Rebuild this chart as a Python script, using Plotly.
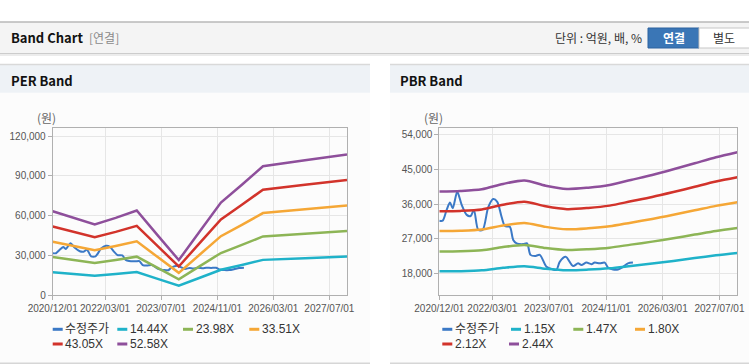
import plotly.graph_objects as go

W, H = 749, 364

# ---------------- data ----------------
x_tick_labels = ["2020/12/01", "2022/03/01", "2023/07/01", "2024/11/01", "2026/03/01", "2027/07/01"]
x_range = ["2020-12-01", "2027-12-01"]
per_y_ticks = [0, 30000, 60000, 90000, 120000]
pbr_y_ticks = [18000, 27000, 36000, 45000, 54000]

price_name = "수정주가"
price_dates = [
    "2020-12-01", "2020-12-30", "2021-02-02", "2021-03-03", "2021-03-26", "2021-05-04",
    "2021-06-11", "2021-07-24", "2021-08-27", "2021-09-24", "2021-10-31", "2021-12-08",
    "2022-01-25", "2022-03-08", "2022-04-12", "2022-05-19", "2022-06-17", "2022-07-29",
    "2022-08-27", "2022-09-25", "2022-11-20", "2022-12-24", "2023-01-22", "2023-03-01",
    "2023-04-12", "2023-06-09", "2023-08-04", "2023-09-02", "2023-09-30", "2023-11-20",
    "2024-01-22", "2024-03-05", "2024-04-03", "2024-05-16", "2024-06-28", "2024-07-26",
    "2024-09-07", "2024-10-20", "2024-11-17", "2024-12-30", "2025-02-11", "2025-03-25",
    "2025-05-07", "2025-06-19",
]
price_values = [
    31700, 31700, 34500, 36400, 34900, 39200,
    35800, 33200, 32900, 34500, 29300, 29300,
    35200, 37300, 36600, 32700, 30300, 30100,
    26700, 25800, 25600, 25800, 22800, 22500,
    22800, 19700, 19000, 18900, 21000, 22300,
    19900, 20600, 20200, 20800, 20400, 20800,
    20600, 20800, 19500, 19000, 19000, 19700,
    20600, 20800,
]

per_band_dates = [
    "2020-12-01", "2021-06-01", "2021-12-01", "2022-06-01", "2022-12-01", "2023-06-01",
    "2023-12-01", "2024-06-01", "2024-12-01", "2025-06-01", "2025-12-01", "2026-12-01",
    "2027-12-01",
]
per_names = ["14.44X", "23.98X", "33.51X", "43.05X", "52.58X"]
per_1444 = [17400, 16030, 14660, 16030, 17550, 12420, 7290, 13240, 19210, 22890, 26710, 27940, 29170]
per_2398 = [28900, 26620, 24340, 26620, 29140, 20620, 12110, 21990, 31890, 38010, 44360, 46400, 48440]
per_3351 = [40380, 37200, 34010, 37200, 40720, 28820, 16920, 30730, 44570, 53110, 61990, 64840, 67690]
per_4305 = [51880, 47790, 43700, 47790, 52310, 37020, 21740, 39480, 57260, 68230, 79640, 83300, 86960]
per_5258 = [63360, 58360, 53370, 58360, 63890, 45220, 26550, 48220, 69930, 83340, 97270, 101740, 106210]

pbr_band_dates = [
    "2020-12-01", "2021-06-01", "2021-12-01", "2022-06-01", "2022-12-01", "2023-06-01",
    "2023-12-01", "2024-06-01", "2024-12-01", "2025-06-01", "2025-12-01", "2026-06-01",
    "2026-12-01", "2027-06-01", "2027-12-01",
]
pbr_names = ["1.15X", "1.47X", "1.80X", "2.12X", "2.44X"]
pbr_115 = [18520, 18570, 18780, 19440, 19870, 19220, 18820, 18980, 19310, 19920, 20540, 21230, 21970, 22700, 23320]
pbr_147 = [23670, 23740, 24010, 24840, 25400, 24570, 24060, 24260, 24680, 25470, 26250, 27140, 28080, 29020, 29800]
pbr_180 = [28980, 29070, 29390, 30420, 31100, 30080, 29460, 29710, 30220, 31180, 32140, 33230, 34380, 35540, 36500]
pbr_212 = [34130, 34240, 34620, 35830, 36630, 35430, 34690, 34990, 35600, 36730, 37860, 39140, 40500, 41850, 42980]
pbr_244 = [39280, 39410, 39850, 41240, 42160, 40780, 39930, 40270, 40970, 42270, 43570, 45050, 46610, 48170, 49470]

# ---------------- style ----------------
price_color = "#3b79c6"
band_colors = ["#1fb2c9", "#8db556", "#f5a736", "#d2332b", "#8e4f9b"]
FONT = "Noto Sans CJK KR, Liberation Sans, sans-serif"
TICK_FONT = "Liberation Sans, sans-serif"
LEG_FONT = "Liberation Sans, Noto Sans CJK KR, sans-serif"


def px(x):
    return x / W


def py(y):
    return 1 - y / H


def iso(lbl):
    return lbl.replace("/", "-")


fig = go.Figure()

fig.add_trace(go.Scatter(x=price_dates, y=price_values, name=price_name, mode="lines",
                         line=dict(color=price_color, width=2, shape="spline", smoothing=0.6),
                         xaxis="x", yaxis="y", showlegend=False))
for name, vals, col in zip(per_names, [per_1444, per_2398, per_3351, per_4305, per_5258], band_colors):
    fig.add_trace(go.Scatter(x=per_band_dates, y=vals, name=name, mode="lines",
                             line=dict(color=col, width=2.5),
                             xaxis="x", yaxis="y", showlegend=False))

fig.add_trace(go.Scatter(x=price_dates, y=price_values, name=price_name, mode="lines",
                         line=dict(color=price_color, width=2, shape="spline", smoothing=0.8),
                         xaxis="x2", yaxis="y2", showlegend=False))
for name, vals, col in zip(pbr_names, [pbr_115, pbr_147, pbr_180, pbr_212, pbr_244], band_colors):
    fig.add_trace(go.Scatter(x=pbr_band_dates, y=vals, name=name, mode="lines",
                             line=dict(color=col, width=2.5, shape="spline", smoothing=0.8),
                             xaxis="x2", yaxis="y2", showlegend=False))

axis_common = dict(showline=True, linecolor="#b0b0b0", linewidth=1, mirror=True,
                   showgrid=True, gridcolor="#e6e6e6", gridwidth=1, zeroline=False,
                   ticks="outside", ticklen=4, tickcolor="#b0b0b0", automargin=False,
                   tickfont=dict(family=TICK_FONT, size=10, color="#555555"))

xaxis_common = dict(axis_common, type="date", range=x_range, tickangle=0,
                    tickvals=[iso(t) for t in x_tick_labels], ticktext=x_tick_labels)

fig.update_layout(
    xaxis=dict(xaxis_common, domain=[px(52.7), px(347)], anchor="y"),
    yaxis=dict(axis_common, domain=[py(295.3), py(128.3)], anchor="x",
               range=[0, 125900], tickvals=per_y_ticks,
               ticktext=[f"{v:,}" for v in per_y_ticks]),
    xaxis2=dict(xaxis_common, domain=[px(439.3), px(737.3)], anchor="y2"),
    yaxis2=dict(axis_common, domain=[py(295.3), py(128.3)], anchor="x2",
                range=[12300, 55700], tickvals=pbr_y_ticks,
                ticktext=[f"{v:,}" for v in pbr_y_ticks]),
)

shapes = []
annotations = []


def rect(x0, y0, x1, y1, fill, line_color=None, lw=0, layer="below"):
    shapes.append(dict(type="rect", xref="paper", yref="paper",
                       x0=px(x0), x1=px(x1), y0=py(y1), y1=py(y0),
                       fillcolor=fill, line=dict(color=line_color or fill, width=lw), layer=layer))


def hline(x0, x1, y, color, w=1, layer="below"):
    shapes.append(dict(type="line", xref="paper", yref="paper",
                       x0=px(x0), x1=px(x1), y0=py(y), y1=py(y),
                       line=dict(color=color, width=w), layer=layer))


def text(x, y, s, size=12, color="#333333", anchor="left", bold=False, family=FONT):
    annotations.append(dict(xref="paper", yref="paper", x=px(x), y=py(y), text=(f"<b>{s}</b>" if bold else s),
                            showarrow=False, xanchor=anchor, yanchor="middle", borderpad=0,
                            font=dict(family=family, size=size, color=color)))


# top header
rect(0, 22, W, 53, "#f4f4f4")
hline(0, W, 22, "#b8b8b8", 1.5)
hline(0, W, 53.5, "#cccccc", 1)
hline(0, W, 55, "#ececec", 2)
text(10, 38, "Band Chart", size=13, color="#111111", bold=True)
text(88, 38, "[연결]", size=12, color="#8a8a8a")
text(643, 38, "단위 : 억원, 배, %", size=12, color="#333333", anchor="right")
rect(648, 28, 699, 48, "#3a76b6", "#2d639f", 1, layer="above")
text(673.5, 38, "연결", size=12, color="#ffffff", anchor="center", bold=True)
rect(699, 28, 750, 48, "#ffffff", "#c6c6c6", 1, layer="above")
text(724, 38, "별도", size=12, color="#333333", anchor="center")

# panels
for (x0, x1) in [(0, 370), (390, W)]:
    rect(x0, 92.7, x1, 363, "#fcfcfc")
    rect(x0, 64.5, x1, 92.7, "#eef2f6")
    hline(x0, x1, 64.5, "#d9d9d9", 1.5)
    hline(x0, x1, 363.3, "#d6d6d6", 1.5)

text(10, 80.5, "PER Band", size=13, color="#111111", bold=True)
text(399, 80.5, "PBR Band", size=13, color="#111111", bold=True)
text(36, 118, "(원)", size=12, color="#666666")
text(423, 118, "(원)", size=12, color="#666666")

# legends
per_leg = [(52.7, 329.3), (117.3, 329.3), (183, 329.3), (249.3, 329.3), (52.7, 344), (117.3, 344)]
pbr_leg = [(442.3, 329.3), (511, 329.3), (573.3, 329.3), (635, 329.3), (442.3, 344), (509, 344)]
for positions, names in [(per_leg, [price_name] + per_names), (pbr_leg, [price_name] + pbr_names)]:
    for (lx, ly), nm, col in zip(positions, names, [price_color] + band_colors):
        hline(lx, lx + 10, ly, col, 3, layer="above")
        text(lx + 11.5, ly, nm, size=12, color="#333333", family=LEG_FONT)

fig.update_layout(
    width=W, height=H, margin=dict(l=0, r=0, t=0, b=0, autoexpand=False),
    paper_bgcolor="#ffffff", plot_bgcolor="#ffffff",
    shapes=shapes, annotations=annotations, showlegend=False,
    font=dict(family=FONT),
)

fig.write_html("out.html", config={"displayModeBar": False},
               post_script="document.body.style.margin='0';document.body.style.padding='0';"
                           "document.body.style.overflow='hidden';")
